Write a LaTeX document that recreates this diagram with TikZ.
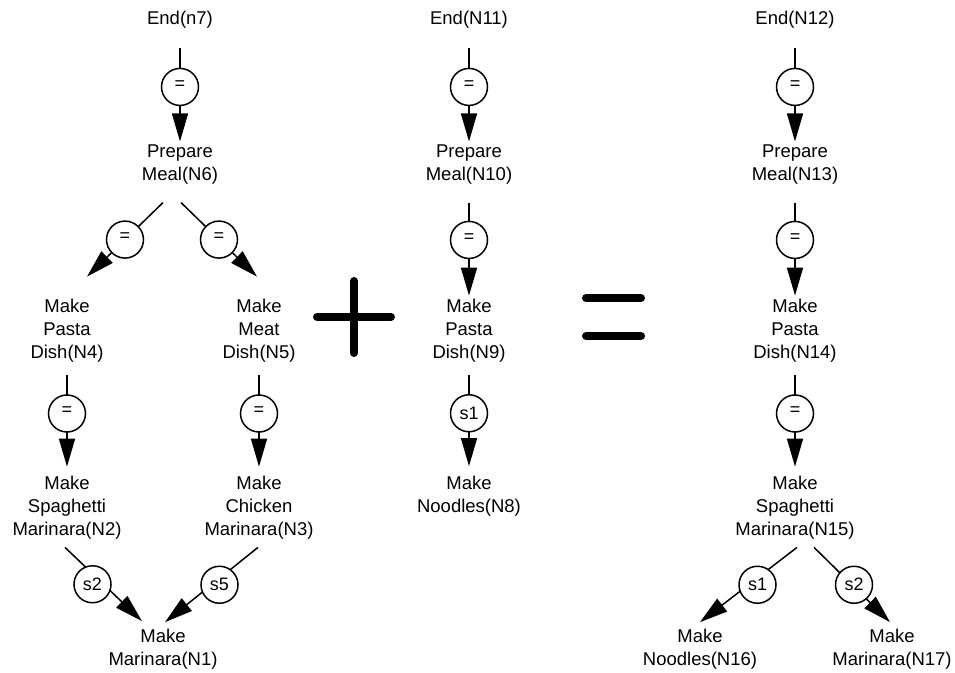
\documentclass[tikz,border=0pt]{standalone}
\usepackage{fontspec}
\setmainfont{Liberation Sans}
\usetikzlibrary{arrows.meta}

\newcommand{\eqsym}{\raisebox{4pt}{=}}

\begin{document}
\begin{tikzpicture}[x=1pt,y=-1pt,line width=1.5pt,
    >={Triangle[length=28pt,width=16pt]},
    act/.style={align=center, inner sep=3pt, font=\fontsize{18.5}{23}\selectfont},
    cons/.style={draw, circle, fill=white, minimum size=37pt, inner sep=0pt,
                 font=\fontsize{18}{23}\selectfont},
    sign/.style={line width=8pt, line cap=round}]

    \useasboundingbox (0,0) rectangle (955,672);

    % Left plan
    \node[act] (n7) at (180,20) {End(n7)};
    \node[act] (n6) at (180,165) {Prepare\\Meal(N6)};
    \node[act] (n4) at (67,331) {Make\\Pasta\\Dish(N4)};
    \node[act] (n5) at (259,331) {Make\\Meat\\Dish(N5)};
    \node[act] (n2) at (67,508) {Make\\Spaghetti\\Marinara(N2)};
    \node[act] (n3) at (259,508) {Make\\Chicken\\Marinara(N3)};
    \node[act] (n1) at (163,649) {Make\\Marinara(N1)};

    \draw[->,shorten <=16pt] (n7.south) -- node[cons] (q76) {\eqsym} (n6.north);
    \draw[->] ([xshift=-17pt,yshift=-14pt]n6.south)
        -- node[cons] (q64) {\eqsym} ([xshift=20pt,yshift=19pt]n4.north);
    \draw[->] ([xshift=1pt,yshift=-14pt]n6.south)
        -- node[cons] (q65) {\eqsym} ([xshift=-2pt,yshift=19pt]n5.north);
    \draw[->,shorten <=9pt] (n4.south) -- node[cons,pos=0.47] (q42) {\eqsym} ([yshift=6pt]n2.north);
    \draw[->,shorten <=9pt] (n5.south) -- node[cons,pos=0.47] (q53) {\eqsym} ([yshift=6pt]n3.north);
    \draw[->] ([xshift=-2pt,yshift=-4pt]n2.south)
        -- node[cons,xshift=-11pt] (q21) {s2} ([xshift=-21pt,yshift=4pt]n1.north);
    \draw[->] ([xshift=-1pt,yshift=-4pt]n3.south)
        -- node[cons,xshift=8pt] (q31) {s5} ([xshift=2pt,yshift=3pt]n1.north);

    % Plus
    \draw[sign] (317,317) -- (391,317);
    \draw[sign] (354,281) -- (354,353);

    % Middle plan
    \node[act] (n11) at (469,20) {End(N11)};
    \node[act] (n10) at (469,165) {Prepare\\Meal(N10)};
    \node[act] (n9) at (469,331) {Make\\Pasta\\Dish(N9)};
    \node[act] (n8) at (469,496) {Make\\Noodles(N8)};

    \draw[->,shorten <=16pt] (n11.south) -- node[cons] (q1110) {\eqsym} (n10.north);
    \draw[->,shorten <=14pt] (n10.south) -- node[cons,pos=0.48] (q109) {\eqsym} (n9.north);
    \draw[->,shorten <=9pt] (n9.south) -- node[cons,pos=0.47] (q98) {s1} ([yshift=6pt]n8.north);

    % Equals
    \draw[sign] (586,298) -- (641,298);
    \draw[sign] (586,336) -- (641,336);

    % Right plan
    \node[act] (n12) at (795,20) {End(N12)};
    \node[act] (n13) at (795,165) {Prepare\\Meal(N13)};
    \node[act] (n14) at (795,331) {Make\\Pasta\\Dish(N14)};
    \node[act] (n15) at (795,508) {Make\\Spaghetti\\Marinara(N15)};
    \node[act] (n16) at (700,649) {Make\\Noodles(N16)};
    \node[act] (n17) at (892,649) {Make\\Marinara(N17)};

    \draw[->,shorten <=16pt] (n12.south) -- node[cons] (q1213) {\eqsym} (n13.north);
    \draw[->,shorten <=14pt] (n13.south) -- node[cons,pos=0.48] (q1314) {\eqsym} (n14.north);
    \draw[->,shorten <=9pt] (n14.south) -- node[cons,pos=0.47] (q1415) {\eqsym} ([yshift=6pt]n15.north);
    \draw[->] ([xshift=2pt,yshift=-4pt]n15.south)
        -- node[cons,xshift=9pt] (q1516) {s1} ([yshift=3pt]n16.north);
    \draw[->] ([xshift=19pt,yshift=-4pt]n15.south)
        -- node[cons,xshift=2pt] (q1517) {s2} ([xshift=-2pt,yshift=3pt]n17.north);
\end{tikzpicture}
\end{document}
